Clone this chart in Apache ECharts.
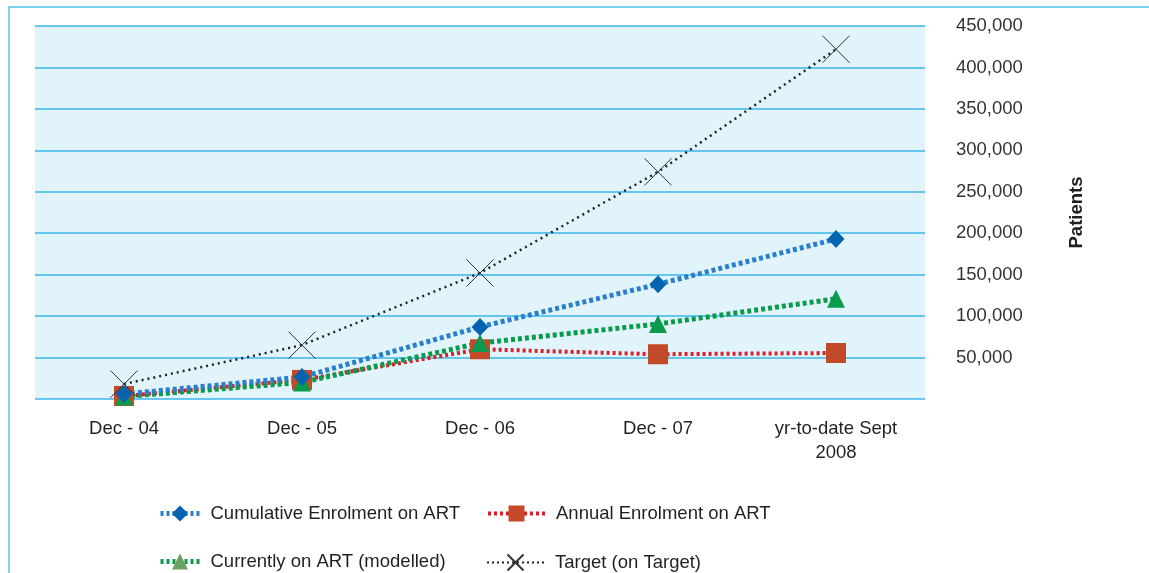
<!DOCTYPE html>
<html>
<head>
<meta charset="utf-8">
<script src="https://cdn.jsdelivr.net/npm/echarts@6/dist/echarts.min.js"></script>
<style>
html,body{margin:0;padding:0;background:#fff;}
#c{width:1149px;height:573px;}
</style>
</head>
<body>
<div id="c"></div>
<script>
var categories = ['Dec - 04', 'Dec - 05', 'Dec - 06', 'Dec - 07', 'yr-to-date Sept\n2008'];
var cumulativeEnrolment = [6000, 26500, 87000, 138500, 193000];
var annualEnrolment = [3600, 23000, 60000, 54000, 55500];
var currentlyOnArt = [3000, 20000, 67500, 90500, 121000];
var targetValues = [18000, 65000, 152000, 274000, 422000];
var seriesNames = ['Cumulative Enrolment on ART', 'Annual Enrolment on ART', 'Currently on ART (modelled)', 'Target (on Target)'];

var FONT = '"Liberation Sans", Arial, Helvetica, sans-serif';
var chart = echarts.init(document.getElementById('c'));

function legendAt(name, left, top, w, extra) {
  var d = {name: name};
  if (extra) { for (var k in extra) d[k] = extra[k]; }
  return {
    data: [d], left: left, top: top, padding: 0,
    itemWidth: w, itemHeight: 20, orient: 'horizontal',
    selectedMode: false,
    textStyle: {fontFamily: FONT, fontSize: 18.5, color: '#231f20', padding: [0, 0, 0, 6]}
  };
}

var xPath = 'path://M0,0L10,10M10,0L0,10';

chart.setOption({
  animation: false,
  backgroundColor: '#ffffff',
  graphic: [{
    type: 'rect', silent: true, z: -10,
    shape: {x: 9, y: 7, width: 1300, height: 700},
    style: {fill: 'none', stroke: '#55c1ec', lineWidth: 1.5}
  }],
  grid: {
    left: 35, right: 224, top: 26, bottom: 174,
    show: true, backgroundColor: '#e1f4fb', borderWidth: 0
  },
  legend: [
    legendAt(seriesNames[0], 158, 504, 39, {lineStyle: {width: 5, type: [3, 3]}}),
    legendAt(seriesNames[1], 486, 504, 57, {lineStyle: {width: 4, type: [3, 3]}}),
    legendAt(seriesNames[2], 158, 552, 39, {itemStyle: {color: '#6aa35f'}, lineStyle: {width: 5, type: [3, 3]}}),
    legendAt(seriesNames[3], 486, 552, 57, {lineStyle: {width: 2, type: [2, 3]}})
  ],
  xAxis: {
    type: 'category', data: categories, boundaryGap: true,
    axisLine: {show: false}, axisTick: {show: false},
    axisLabel: {fontFamily: FONT, fontSize: 18.5, color: '#231f20', margin: 18, lineHeight: 24, interval: 0}
  },
  yAxis: {
    type: 'value', position: 'right', min: 0, max: 450000, interval: 50000,
    name: 'Patients', nameLocation: 'middle', nameRotate: 90, nameGap: 142,
    nameTextStyle: {fontFamily: FONT, fontSize: 18.5, fontWeight: 'bold', color: '#231f20'},
    axisLine: {show: false}, axisTick: {show: false},
    axisLabel: {
      fontFamily: FONT, fontSize: 18.5, color: '#333333', margin: 31,
      formatter: function (v) { return v === 0 ? '' : v.toLocaleString('en-US'); }
    },
    splitLine: {show: true, lineStyle: {color: '#3ab7ea', width: 1.5}}
  },
  series: [
    {
      name: seriesNames[1], type: 'line', data: annualEnrolment,
      symbol: 'rect', symbolSize: [20, 20],
      lineStyle: {color: '#d81f2a', width: 4, type: [3, 3]},
      itemStyle: {color: '#c24a28'}
    },
    {
      name: seriesNames[2], type: 'line', data: currentlyOnArt,
      symbol: 'triangle', symbolSize: [18, 18],
      lineStyle: {color: '#0b9a4c', width: 5, type: [4, 3]},
      itemStyle: {color: '#0a9a4c'}
    },
    {
      name: seriesNames[0], type: 'line', data: cumulativeEnrolment,
      symbol: 'diamond', symbolSize: [17, 18],
      lineStyle: {color: '#2a7fcc', width: 5, type: [4, 3]},
      itemStyle: {color: '#0563b0'}
    },
    {
      name: seriesNames[3], type: 'line', data: targetValues,
      symbol: xPath, symbolSize: [27, 27],
      lineStyle: {color: '#222222', width: 2.5, type: [2, 4]},
      itemStyle: {color: 'none', borderColor: '#333333', borderWidth: 1}
    }
  ]
});
</script>
</body>
</html>
